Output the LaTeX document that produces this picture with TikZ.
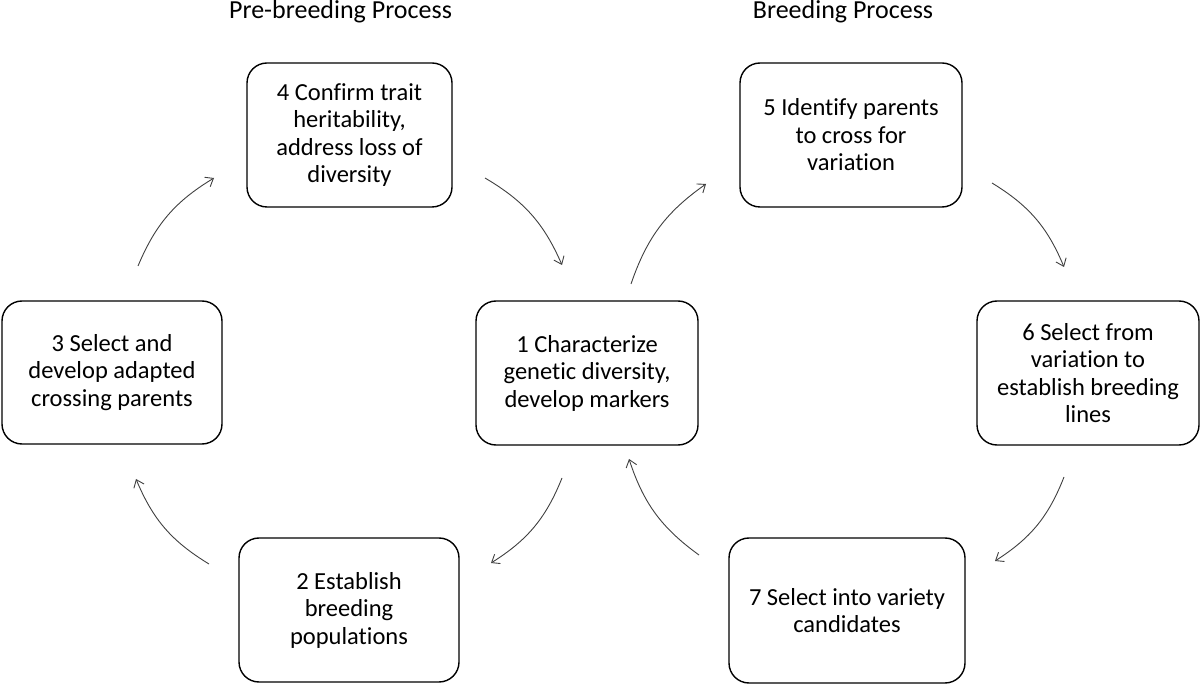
\documentclass[tikz,border=0pt]{standalone}
\usepackage{fontspec}
\setmainfont{Carlito}[Ligatures=NoCommon]
\usetikzlibrary{arrows.meta}
\begin{document}
\begin{tikzpicture}[x=1pt,y=1pt,
  box/.style={draw=black, line width=1.4pt, rounded corners=20pt, inner sep=0pt,
    align=center, font=\fontsize{24.5}{27.5}\selectfont},
  flow/.style={draw=black!75, line width=0.9pt, -{Straight Barb[length=7pt,width=11pt]}, bend left=18},
  title/.style={anchor=base, font=\fontsize{26}{30}\selectfont}]
\useasboundingbox (0,0) rectangle (1200,-684);
\node[title] (t1) at (340.5,-19) {Pre-breeding Process};
\node[title] (t2) at (843,-19) {Breeding Process};
\node[box, minimum width=222pt, minimum height=144pt] (n1) at (587,-373) {1 Characterize\\genetic diversity,\\develop markers};
\node[box, minimum width=220pt, minimum height=144pt] (n2) at (349,-610) {2 Establish\\breeding\\populations};
\node[box, minimum width=220pt, minimum height=143pt] (n3) at (112,-372.5) {3 Select and\\develop adapted\\crossing parents};
\node[box, minimum width=205pt, minimum height=144pt] (n4) at (349.5,-135) {4 Confirm trait\\heritability,\\address loss of\\diversity};
\node[box, minimum width=222pt, minimum height=144pt] (n5) at (851,-135) {5 Identify parents\\to cross for\\variation};
\node[box, minimum width=222pt, minimum height=144pt] (n6) at (1088,-373) {6 Select from\\variation to\\establish breeding\\lines};
\node[box, minimum width=236pt, minimum height=145pt] (n7) at (847,-610.5) {7 Select into variety\\candidates};
\coordinate (a34s) at (138,-266); \coordinate (a34e) at (214,-178);
\coordinate (a41s) at (485,-178); \coordinate (a41e) at (562,-265);
\coordinate (a15s) at (631,-284); \coordinate (a15e) at (706,-184);
\coordinate (a56s) at (992,-183); \coordinate (a56e) at (1064,-267);
\coordinate (a67s) at (1064,-477); \coordinate (a67e) at (995,-561);
\coordinate (a71s) at (699,-555); \coordinate (a71e) at (629,-459);
\coordinate (a12s) at (562,-478); \coordinate (a12e) at (491,-563);
\coordinate (a23s) at (209,-564); \coordinate (a23e) at (136,-479);
\draw[flow] (a34s) to (a34e);
\draw[flow] (a41s) to (a41e);
\draw[flow] (a15s) to (a15e);
\draw[flow] (a56s) to (a56e);
\draw[flow] (a67s) to (a67e);
\draw[flow] (a71s) to (a71e);
\draw[flow] (a12s) to (a12e);
\draw[flow] (a23s) to (a23e);
\end{tikzpicture}
\end{document}
